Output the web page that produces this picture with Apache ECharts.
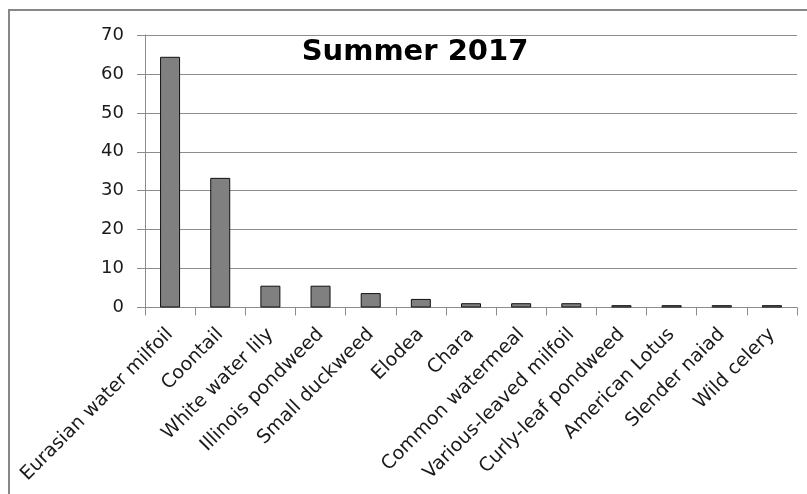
<!DOCTYPE html>
<html>
<head>
<meta charset="utf-8">
<title>Summer 2017</title>
<script src="https://cdn.jsdelivr.net/npm/echarts@6/dist/echarts.min.js"></script>
<style>
  html, body { margin: 0; padding: 0; background: #ffffff; }
  #chart { width: 807px; height: 494px; }
</style>
</head>
<body>
<div id="chart"></div>
<script>
// Plant species observed, summer survey
const species = [
  'Eurasian water milfoil', 'Coontail', 'White water lily', 'Illinois pondweed',
  'Small duckweed', 'Elodea', 'Chara', 'Common watermeal',
  'Various-leaved milfoil', 'Curly-leaf pondweed', 'American Lotus',
  'Slender naiad', 'Wild celery'
];
const frequency = [64.4, 33.3, 5.6, 5.6, 3.7, 2.2, 1.1, 1.1, 1.1, 0.6, 0.6, 0.6, 0.6];
const yTicks = { min: 0, max: 70, step: 10 };
const chartTitle = 'Summer 2017';

const chart = echarts.init(document.getElementById('chart'), null, { renderer: 'canvas' });

const labelFont = 'DejaVu Sans';
const lineGray = '#8c8c8c';

chart.setOption({
  animation: false,
  backgroundColor: '#ffffff',
  title: {
    text: chartTitle,
    left: 410,
    top: 33,
    textAlign: 'center',
    textStyle: {
      fontFamily: labelFont,
      fontWeight: 'bold',
      fontSize: 29,
      color: '#000000'
    }
  },
  graphic: [{
    type: 'rect',
    silent: true,
    shape: { x: 9, y: 10, width: 830, height: 520 },
    style: { fill: 'none', stroke: '#878787', lineWidth: 2 }
  }],
  grid: {
    left: 145,
    top: 35,
    width: 652,
    height: 272.5,
    containLabel: false
  },
  xAxis: {
    type: 'category',
    data: species,
    boundaryGap: true,
    axisLine: { show: true, lineStyle: { color: lineGray, width: 1 } },
    axisTick: { show: true, length: 8, inside: false, lineStyle: { color: lineGray } },
    axisLabel: {
      interval: 0,
      rotate: 45,
      margin: 24,
      fontFamily: labelFont,
      fontSize: 19,
      color: '#1a1a1a'
    },
    splitLine: { show: false }
  },
  yAxis: {
    type: 'value',
    min: yTicks.min,
    max: yTicks.max,
    interval: yTicks.step,
    axisLine: { show: true, lineStyle: { color: lineGray, width: 1 } },
    axisTick: { show: true, length: 8, inside: false, lineStyle: { color: lineGray } },
    axisLabel: {
      margin: 21,
      fontFamily: labelFont,
      fontSize: 18,
      color: '#1a1a1a'
    },
    splitLine: { show: true, lineStyle: { color: lineGray, width: 1 } }
  },
  series: [{
    type: 'bar',
    data: frequency,
    barWidth: 20,
    itemStyle: {
      color: '#808080',
      borderColor: '#111111',
      borderWidth: 1
    }
  }]
});
</script>
</body>
</html>
